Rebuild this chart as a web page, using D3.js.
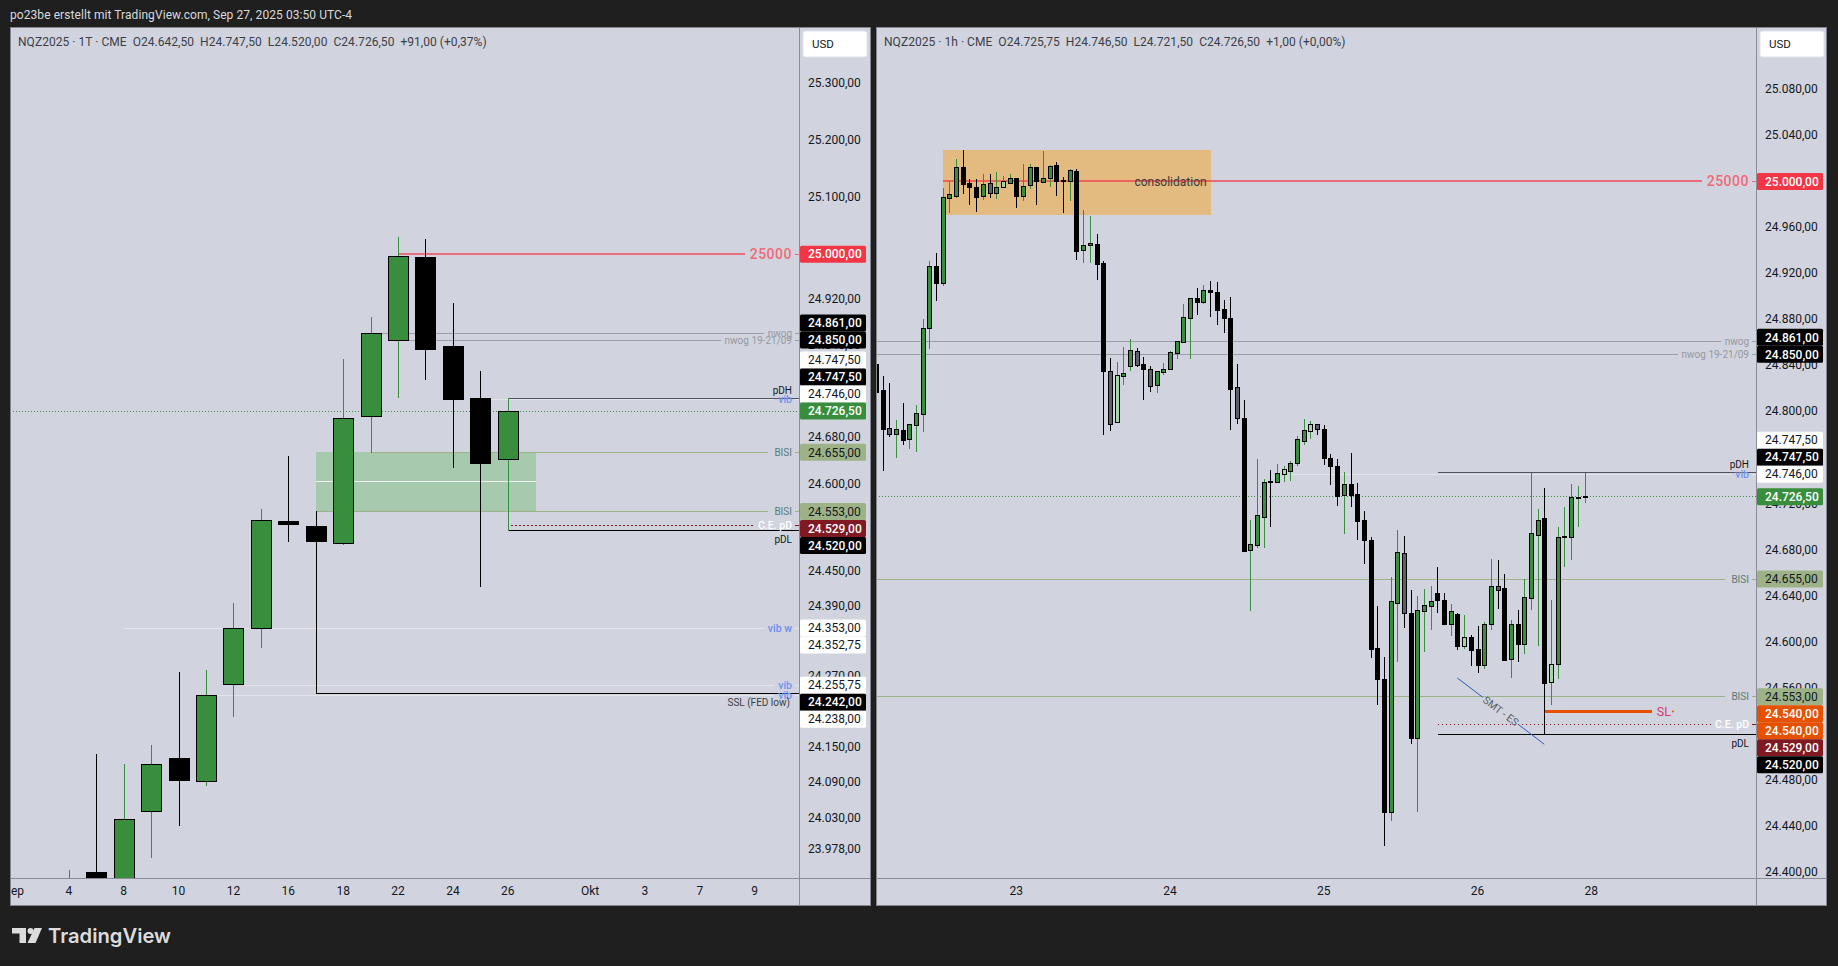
<!DOCTYPE html>
<html>
<head>
<meta charset="utf-8">
<style>
    html, body { margin: 0; padding: 0; background: #1f1f1f; overflow: hidden; }
    svg { display: block; font-family: Roboto, "Noto Sans", sans-serif; }
    text { white-space: pre; }
    .crisp { shape-rendering: crispEdges; }
</style>
</head>
<body>
<svg id="chart" width="1838" height="966"></svg>
<script src="https://cdn.jsdelivr.net/npm/d3@7"></script>
<script>
// ---- daily chart (left) ----
var leftOpen  = [23881.5,23938.5,23916.5,24041.5,24130.5,24092.5,24256.5,24353,24535,24527.5,24498.5,24717.5,24850,24995,24839.5,24747.5,24642.5];
var leftHigh  = [23942.5,24137.5,24120.5,24152.5,24276.5,24281.5,24395.5,24556.5,24647.5,24553.5,24816.5,24888.5,25028.5,25026.5,24914.5,24794.5,24747.5];
var leftLow   = [23861.5,23901.5,23901.5,23964.5,24018.5,24085.5,24202.5,24319.5,24501.5,24242,24496,24655,24749.5,24780.5,24628.5,24424,24520];
var leftClose = [23921.5,23921.5,24027.5,24121.5,24094.5,24238.5,24352.75,24537.5,24530.5,24501.5,24713.5,24861,24996.5,24833.5,24746.5,24635.5,24726.5];

var leftTimeBars   = [-2,0,2,4,6,8,10,12,14,16,19,21,23,25];
var leftTimeLabels = ["Sep","4","8","10","12","16","18","22","24","26","Okt","3","7","9"];
var leftPriceTicks = [25300,25200,25100,24920,24840,24680,24600,24450,24390,24270,24150,24090,24030,23978];

var leftLevelNames  = ["25000","nwog","nwog 19-21/09","vib","pDH","BISI","BISI","C.E. pD","pDL","vib w","vib","vib","SSL (FED low)"];
var leftLevelPrices = [25000,24861,24850,24746,24747.5,24655,24553,24529,24520,24353,24255.75,24238,24242];
var leftLevelStarts = [12,11.4,12,15.3,16,11,9,16.1,16,2,6.4,5.3,9];

var leftTagPrices = [25000,24861,24850,24747.5,24747.5,24746,24726.5,24655,24553,24529,24520,24353,24352.75,24255.75,24242,24238];
var leftTagKinds  = ["red","black","black","white","black","white","green","bisi","bisi","maroon","black","white","white","white","black","white"];

var leftZone = [9, 17, 24655, 24553];

// ---- hourly chart (right) ----
var rightOpen = [24841.25,24818.5,24785.25,24780.5,24783.5,24775.75,24788.5,24798,24872,24926,
    24911,24985.5,24987,25012,24998,24994.5,24986.5,24998,24989.25,24994.5,
    24998,25002.5,24986.5,24996.25,25011.75,24999,25002.5,25013.5,25000.5,24999.5,
    25008.5,24940,24944,24945,24928.5,24835,24790.5,24831,24839.25,24852.25,
    24841.25,24836.5,24823.25,24834.5,24837,24850.5,24860,24881.25,24898.5,24895.25,
    24905.25,24903.5,24889,24881,24821,24794.25,24679.5,24684.5,24708.5,24739.5,
    24739,24745.5,24748.5,24755.5,24774.5,24783.25,24788.75,24784.75,24759.5,24752.5,
    24727.75,24737,24728.25,24705.75,24688.5,24594.75,24567.75,24452.25,24634,24677,
    24625.25,24517,24627.25,24631.5,24642.5,24636.5,24615.75,24624.25,24596.75,24604,
    24593.75,24580.25,24615.75,24649,24646.5,24585.25,24616,24598,24638.5,24693,
    24707.25,24565.5,24581.25,24691,24691.25,24725.5,24725.75];
var rightHigh = [24847.5,24830.75,24824.5,24792.5,24807,24789.5,24805.5,24880,24930.5,24937.25,
    24993.5,24999.5,25019,25027,25001.75,25001.5,25006,25006,25008,25004.5,
    25006,25002.5,25014.75,25014.75,25011.75,25026,25013.75,25016.25,25003.25,25010,
    25010,24974.75,24969.5,24953.75,24930.5,24846.25,24842.75,24855.75,24862.75,24855,
    24847,24839.25,24835,24842,24852.75,24861.25,24893.25,24898.25,24907,24909.75,
    24913,24912,24896.5,24899.25,24841.25,24810,24705.5,24758.75,24741,24749,
    24754.25,24752.5,24757,24778.5,24793.5,24791.75,24789,24788.25,24763,24758.5,
    24747.5,24763.75,24737.75,24713.5,24691,24631.25,24586.75,24656.5,24697.25,24692,
    24645,24639.75,24646,24648.5,24665.25,24642.25,24633,24625.25,24623.25,24605.75,
    24614.25,24617,24671.75,24671,24659,24619.5,24627.5,24654.5,24747,24715.25,
    24733.25,24636.5,24699.5,24717,24737,24735.25,24746.5];
var rightLow = [24810,24749,24779,24760.75,24772,24768.5,24765.75,24783.25,24855,24897,
    24910,24973.25,24986.25,24989.75,24980.25,24974.25,24984.25,24986,24984.75,24994.5,
    24998,24977.75,24983.75,24994,24980.25,24999,24996,24988,24973.25,24983.75,
    24932.5,24930,24930,24915,24780.5,24784,24790.5,24824,24836.25,24839.5,
    24811,24818,24817,24832.75,24837,24846.75,24860,24846.75,24884.5,24894.25,
    24883,24876.25,24869.25,24785,24790.25,24678.5,24627.75,24682.75,24682.75,24700.75,
    24739,24740,24740.75,24753.25,24771.75,24777,24780.5,24754.5,24737.25,24719,
    24694.75,24718.25,24689.75,24668.75,24586.75,24546,24423.5,24445.5,24583.5,24613,
    24512.75,24453.75,24592.5,24611.5,24626.25,24615.75,24606.25,24594.25,24595,24580.25,
    24574,24577.5,24611.5,24629.75,24584.5,24569.75,24583.5,24590.75,24628.75,24597.5,
    24520,24546.25,24569,24665.5,24672.25,24700.75,24721.5];
var rightClose = [24817,24785,24780.5,24784.5,24775.5,24788.75,24798.25,24872.25,24926,24911,
    24985.75,24988.25,25011.75,24997.5,24995,24986.25,24997,24989.25,24994.5,24999.75,
    25002.5,24987,24996,25011.75,24999.5,25002.5,25012.75,24999.5,24999.5,25009.5,
    24939.5,24944.25,24946,24928.25,24835.5,24789.5,24831.5,24833,24853,24840.5,
    24837,24822.25,24835,24836.5,24851.5,24861,24881.75,24898.25,24895.25,24905.25,
    24904,24888.25,24880.75,24819.75,24794,24679,24684.75,24710,24738.5,24738.75,
    24747,24749.75,24755,24775.75,24783.5,24789.5,24784.5,24759.75,24752.75,24726.75,
    24736.75,24727.75,24705.25,24688.75,24594,24568,24452.75,24635.25,24677.75,24624.75,
    24517,24627.5,24631.75,24635.25,24636.5,24615.75,24626.5,24596.75,24604,24593.25,
    24580.25,24615.25,24649,24645.25,24584.5,24616,24598.5,24638.75,24694.25,24705.5,
    24564.75,24580.5,24691,24691.75,24725.5,24725.75,24726.5];
// g = up, k = down, s = inside down, l = inside up
var rightKinds = ("kksgkggggk" + "gggkkkgsgl" + "gkggkggkkg" + "kggkkslggs" + "ksggggggkg" +
    "kkkkskgggk" + "glggglskkk" + "gkkkkkkggs" + "kgggkkgklk" + "kggskgkggg" + "klggggg").split("");

var rightTimeBars   = [21,44,67,90,107];
var rightTimeLabels = ["23","24","25","26","28"];
var rightPriceTicks = [25080,25040,24960,24920,24880,24840,24800,24760,24720,24680,24640,24600,24560,24480,24440,24400];

var rightLevelNames  = ["25000","nwog","nwog 19-21/09","vib","pDH","BISI","BISI","C.E. pD","pDL"];
var rightLevelPrices = [25000,24861,24850,24746,24747.5,24655,24553,24529,24520];
var rightLevelStarts = [10,-1,-1,62,84,-1,-1,84,84];

var rightTagPrices = [25000,24861,24850,24747.5,24747.5,24746,24726.5,24655,24553,24540,24540,24529,24520];
var rightTagKinds  = ["red","black","black","white","black","white","green","bisi","bisi","orange","orange","maroon","black"];

var consolidationZone = [10, 50, 25027, 24970.5];
var stopBars = [100, 116], stopPrice = 24540;
var smtBars = [86.9, 99.9], smtPrices = [24569.25, 24511.75];

var lastPrice = 24726.5;

// ---- looks ----
var tagLook = {
    red:    { bg: "#f23645", fg: "#ffffff", weight: 500 },
    black:  { bg: "#000000", fg: "#ffffff", weight: 500 },
    white:  { bg: "#ffffff", fg: "#131722", weight: 400 },
    green:  { bg: "#388e3c", fg: "#ffffff", weight: 500 },
    bisi:   { bg: "#9db287", fg: "#131722", weight: 400 },
    maroon: { bg: "#801922", fg: "#ffffff", weight: 500 },
    orange: { bg: "#e65100", fg: "#ffffff", weight: 500 }
};
var levelLook = {
    "25000":         { stroke: "rgba(242,54,69,.65)", width: 2, color: "#ef6b78", size: 14, weight: 500, spacing: 0.5, place: "inline", gap: 5 },
    "nwog":          { stroke: "#9b9ea6", width: 1, color: "#9598a1", size: 10, place: "inline", gap: 4 },
    "nwog 19-21/09": { stroke: "#9b9ea6", width: 1, color: "#9598a1", size: 10, place: "inline", gap: 4 },
    "vib":           { stroke: "#e3e5ea", width: 1, color: "#7394f0", size: 10.5, weight: 500, place: "inline", gap: 4 },
    "vib w":         { stroke: "#e3e5ea", width: 1, color: "#6d8ff0", size: 10.5, weight: 500, place: "inline", gap: 4 },
    "pDH":           { stroke: "#50535e", width: 1, color: "#131722", size: 10, place: "above" },
    "pDL":           { stroke: "#000000", width: 1, color: "#131722", size: 10, place: "below" },
    "BISI":          { stroke: "#9db287", width: 1, color: "#5a7a7c", size: 10, place: "inline", gap: 6 },
    "C.E. pD":       { stroke: "#801922", width: 1, dash: "1.5 2.5", color: "#ffffff", size: 10.5, weight: 500, place: "inline", gap: 4 },
    "SSL (FED low)": { stroke: "#000000", width: 1, color: "#3a3d46", size: 10, place: "below", inset: 2 }
};
var candleFill = { g: "#388e3c", k: "#000000", s: "#5d606b", l: "#a5d6a7" };
var wickColor  = { g: "#388e3c", k: "#000000", s: "#000000", l: "#388e3c" };

var fmtPrice = d3.formatLocale({ decimal: ",", thousands: ".", grouping: [3], currency: ["", ""] }).format(",.2f");

var svg = d3.select("#chart");
svg.append("rect").attr("width", 1838).attr("height", 966).attr("fill", "#1f1f1f");

svg.append("text").attr("x", 10).attr("y", 19)
    .attr("font-size", 12).attr("letter-spacing", 0.07).attr("fill", "#d8dade")
    .text("po23be erstellt mit TradingView.com, Sep 27, 2025 03:50 UTC-4");

function crisp(v) { return Math.floor(v) + 0.5; }

function drawPanel(opt) {
    var g = svg.append("g");
    var top = 27, bottom = 906, timeY = 878;

    g.append("rect").attr("class", "crisp")
        .attr("x", opt.left + 0.5).attr("y", top + 0.5)
        .attr("width", opt.right - opt.left - 1).attr("height", bottom - top - 1)
        .attr("fill", "#d1d4de").attr("stroke", "#82858e");

    g.append("clipPath").attr("id", "plot" + opt.id).append("rect")
        .attr("x", opt.left + 1).attr("y", top + 1)
        .attr("width", opt.axisX - opt.left - 1).attr("height", timeY - top - 1);
    g.append("clipPath").attr("id", "time" + opt.id).append("rect")
        .attr("x", opt.left + 1).attr("y", timeY)
        .attr("width", opt.axisX - opt.left - 1).attr("height", bottom - timeY);

    var plot = g.append("g").attr("clip-path", "url(#plot" + opt.id + ")");
    var x = opt.x, y = opt.y;
    var lines = plot.append("g"), marks = plot.append("g"), notes = g.append("g");

    if (opt.beforeLines) opt.beforeLines(lines, x, y);

    // level lines, the text sits at the axis and the line stops in front of it
    opt.levelNames.forEach(function (name, i) {
        var look = levelLook[name];
        var yy = look.width === 2 ? Math.floor(y(opt.levelPrices[i])) : crisp(y(opt.levelPrices[i]));
        var textEnd = opt.axisX - 7 - (look.inset || 0);
        var label = notes.append("text")
            .attr("x", textEnd).attr("text-anchor", "end")
            .attr("font-size", look.size).attr("font-weight", look.weight || 400)
            .attr("letter-spacing", look.spacing || null)
            .attr("fill", look.color).text(name);
        var lineEnd = opt.axisX;
        if (look.place === "inline") {
            label.attr("y", yy + 0.35 * look.size);
            lineEnd = textEnd - label.node().getComputedTextLength() - look.gap;
            g.append("line").attr("class", "crisp")
                .attr("x1", opt.axisX - 4).attr("x2", opt.axisX).attr("y1", yy).attr("y2", yy)
                .attr("stroke", look.stroke).attr("stroke-width", 1);
        } else if (look.place === "above") {
            label.attr("y", yy - 4.5);
        } else {
            label.attr("y", yy + 12);
        }
        lines.append("line").attr("class", "crisp")
            .attr("x1", x(opt.levelStarts[i])).attr("x2", lineEnd)
            .attr("y1", yy).attr("y2", yy)
            .attr("stroke", look.stroke).attr("stroke-width", look.width)
            .attr("stroke-dasharray", look.dash || null);
    });

    // last price
    lines.append("line").attr("class", "crisp")
        .attr("x1", opt.left).attr("x2", opt.axisX)
        .attr("y1", crisp(y(lastPrice))).attr("y2", crisp(y(lastPrice)))
        .attr("stroke", "#388e3c").attr("stroke-dasharray", "1 2");

    if (opt.afterLines) opt.afterLines(lines, x, y, notes);

    // candles
    var bars = d3.range(opt.open.length).map(function (i) {
        return { i: i, o: opt.open[i], h: opt.high[i], l: opt.low[i], c: opt.close[i],
                 k: opt.kinds ? opt.kinds[i] : (opt.close[i] >= opt.open[i] ? "g" : "k") };
    });
    var candle = marks.selectAll("g").data(bars).join("g").attr("class", "crisp");
    candle.append("line")
        .attr("x1", function (d) { return crisp(x(d.i)); })
        .attr("x2", function (d) { return crisp(x(d.i)); })
        .attr("y1", function (d) { return Math.floor(y(d.h)); })
        .attr("y2", function (d) { return Math.floor(y(d.l)) + 1; })
        .attr("stroke", function (d) { return wickColor[d.k]; });
    candle.append("rect")
        .attr("x", function (d) { return crisp(x(d.i)) - opt.bodyWidth / 2; })
        .attr("y", function (d) { return crisp(y(Math.max(d.o, d.c))); })
        .attr("width", opt.bodyWidth)
        .attr("height", function (d) {
            return Math.max(Math.floor(y(Math.min(d.o, d.c))) - Math.floor(y(Math.max(d.o, d.c))), 1);
        })
        .attr("fill", function (d) { return candleFill[d.k]; })
        .attr("stroke", "#000000");

    // price axis
    g.append("line").attr("class", "crisp")
        .attr("x1", opt.axisX + 0.5).attr("x2", opt.axisX + 0.5).attr("y1", top).attr("y2", bottom)
        .attr("stroke", "#8a8d96");
    var priceAxis = g.append("g").attr("transform", "translate(" + (opt.axisX + 1) + ",-1)")
        .call(d3.axisRight(y).tickValues(opt.priceTicks).tickFormat(fmtPrice).tickSize(0).tickPadding(8));
    priceAxis.select(".domain").remove();
    priceAxis.selectAll("text").attr("font-family", "Roboto").attr("font-size", 12).attr("fill", "#131722");

    // time axis
    g.append("line").attr("class", "crisp")
        .attr("x1", opt.left).attr("x2", opt.right).attr("y1", timeY + 0.5).attr("y2", timeY + 0.5)
        .attr("stroke", "#8a8d96");
    var timeAxis = g.append("g").attr("clip-path", "url(#time" + opt.id + ")").append("g")
        .attr("transform", "translate(-1," + timeY + ")")
        .call(d3.axisBottom(x).tickValues(opt.timeBars)
            .tickFormat(function (d) { return opt.timeLabels[opt.timeBars.indexOf(d)]; })
            .tickSize(0).tickPadding(8));
    timeAxis.select(".domain").remove();
    timeAxis.selectAll("text").attr("font-family", "Roboto").attr("font-size", 12).attr("fill", "#131722");

    // price tags: above the last price they push upwards, below it downwards
    var tagH = 17, at = opt.tagPrices.map(function (p) { return y(p); });
    var anchor = opt.tagPrices.indexOf(lastPrice), j;
    for (j = anchor - 1; j >= 0; j--) at[j] = Math.min(at[j], at[j + 1] - tagH);
    for (j = anchor + 1; j < at.length; j++) at[j] = Math.max(at[j], at[j - 1] + tagH);
    var tag = g.append("g").selectAll("g").data(opt.tagPrices).join("g")
        .attr("transform", function (d, i) { return "translate(" + (opt.axisX + 1) + "," + at[i] + ")"; });
    tag.append("rect").attr("y", -tagH / 2).attr("width", 66).attr("height", tagH).attr("rx", 1.5)
        .attr("fill", function (d, i) { return tagLook[opt.tagKinds[i]].bg; });
    tag.append("text").attr("x", 8).attr("dy", "0.35em").attr("font-size", 12)
        .attr("font-weight", function (d, i) { return tagLook[opt.tagKinds[i]].weight; })
        .attr("fill", function (d, i) { return tagLook[opt.tagKinds[i]].fg; })
        .text(fmtPrice);

    // currency box
    g.append("rect").attr("x", opt.axisX + 4).attr("y", 31).attr("width", 64).attr("height", 26).attr("rx", 2.5)
        .attr("fill", "#ffffff").attr("stroke", "#e0e3eb");
    g.append("text").attr("x", opt.axisX + 13).attr("y", 48).attr("font-size", 11.5).attr("fill", "#131722").text("USD");

    // legend
    g.append("text").attr("x", opt.left + 8).attr("y", 46).attr("font-size", 12)
        .attr("letter-spacing", 0.04).attr("fill", "#3c3f48").text(opt.legend);
}

drawPanel({
    id: "L", left: 10, right: 871, axisX: 799,
    x: d3.scaleLinear().domain([0, 16]).range([69.3, 508.3]),
    y: d3.scaleLog().domain([25000, 23978]).range([254.2, 849.4]),
    open: leftOpen, high: leftHigh, low: leftLow, close: leftClose, bodyWidth: 20,
    timeBars: leftTimeBars, timeLabels: leftTimeLabels, priceTicks: leftPriceTicks,
    levelNames: leftLevelNames, levelPrices: leftLevelPrices, levelStarts: leftLevelStarts,
    tagPrices: leftTagPrices, tagKinds: leftTagKinds,
    legend: "NQZ2025 · 1T · CME  O24.642,50  H24.747,50  L24.520,00  C24.726,50  +91,00 (+0,37%)",
    beforeLines: function (layer, x, y) {
        layer.append("rect").attr("class", "crisp")
            .attr("x", x(leftZone[0])).attr("width", x(leftZone[1]) - x(leftZone[0]))
            .attr("y", y(leftZone[2])).attr("height", y(leftZone[3]) - y(leftZone[2]))
            .attr("fill", "#a7c9ae");
        var mid = crisp(y((leftZone[2] + leftZone[3]) / 2));
        layer.append("line").attr("class", "crisp")
            .attr("x1", x(leftZone[0])).attr("x2", x(leftZone[1])).attr("y1", mid).attr("y2", mid)
            .attr("stroke", "#eef1ee");
    }
});

drawPanel({
    id: "R", left: 876, right: 1827, axisX: 1756,
    x: d3.scaleLinear().domain([0, 106]).range([876.4, 1585]),
    y: d3.scaleLinear().domain([25000, 24520]).range([181.4, 734.7]),
    open: rightOpen, high: rightHigh, low: rightLow, close: rightClose, kinds: rightKinds, bodyWidth: 4,
    timeBars: rightTimeBars, timeLabels: rightTimeLabels, priceTicks: rightPriceTicks,
    levelNames: rightLevelNames, levelPrices: rightLevelPrices, levelStarts: rightLevelStarts,
    tagPrices: rightTagPrices, tagKinds: rightTagKinds,
    legend: "NQZ2025 · 1h · CME  O24.725,75  H24.746,50  L24.721,50  C24.726,50  +1,00 (+0,00%)",
    beforeLines: function (layer, x, y) {
        layer.append("rect").attr("class", "crisp")
            .attr("x", x(consolidationZone[0])).attr("width", x(consolidationZone[1]) - x(consolidationZone[0]))
            .attr("y", y(consolidationZone[2])).attr("height", y(consolidationZone[3]) - y(consolidationZone[2]))
            .attr("fill", "#e3bb81");
    },
    afterLines: function (layer, x, y, notes) {
        notes.append("text")
            .attr("x", x(consolidationZone[1]) - 4).attr("y", y(25000) + 5).attr("text-anchor", "end")
            .attr("font-size", 12).attr("fill", "#3a3a3a").text("consolidation");

        // stop line with its label
        var sy = crisp(y(stopPrice));
        layer.append("line").attr("class", "crisp")
            .attr("x1", x(stopBars[0])).attr("x2", x(stopBars[1])).attr("y1", sy).attr("y2", sy)
            .attr("stroke", "#e65100").attr("stroke-width", 3);
        notes.append("text").attr("x", x(stopBars[1]) + 5).attr("y", sy + 4)
            .attr("font-size", 12.5).attr("fill", "#d13a78").text("SL");
        notes.append("circle").attr("cx", x(stopBars[1]) + 21).attr("cy", sy).attr("r", 1)
            .attr("fill", "#e65100");

        // SMT trend line, broken around its text
        var from = [x(smtBars[0]), y(smtPrices[0])], to = [x(smtBars[1]), y(smtPrices[1])];
        var along = d3.interpolate(from, to);
        [[0, 0.294], [0.705, 1]].forEach(function (part) {
            var a = along(part[0]).slice(), b = along(part[1]).slice();
            layer.append("line").attr("x1", a[0]).attr("y1", a[1]).attr("x2", b[0]).attr("y2", b[1])
                .attr("stroke", "#2f5bb7").attr("stroke-width", 1);
        });
        var mid = along(0.5).slice(), angle = Math.atan2(to[1] - from[1], to[0] - from[0]) * 180 / Math.PI;
        notes.append("text")
            .attr("transform", "translate(" + mid[0] + "," + mid[1] + ") rotate(" + angle + ")")
            .attr("text-anchor", "middle").attr("dy", "0.35em")
            .attr("font-size", 10.5).attr("fill", "#5d606b").text("SMT - ES");
    }
});

// TradingView mark in the footer
var logo = svg.append("g").attr("fill", "#dcdcdc");
logo.append("path").attr("d", "M12 928H26V943H19.5V933.5H12Z");
logo.append("circle").attr("cx", 30.5).attr("cy", 931).attr("r", 3);
logo.append("path").attr("d", "M34.5 928H42L35.5 943H27.5Z");
logo.append("text").attr("x", 48).attr("y", 942.5)
    .attr("font-family", "Inter").attr("font-weight", 600).attr("font-size", 20.2).attr("fill", "#dcdcdc")
    .text("TradingView");
</script>
</body>
</html>
